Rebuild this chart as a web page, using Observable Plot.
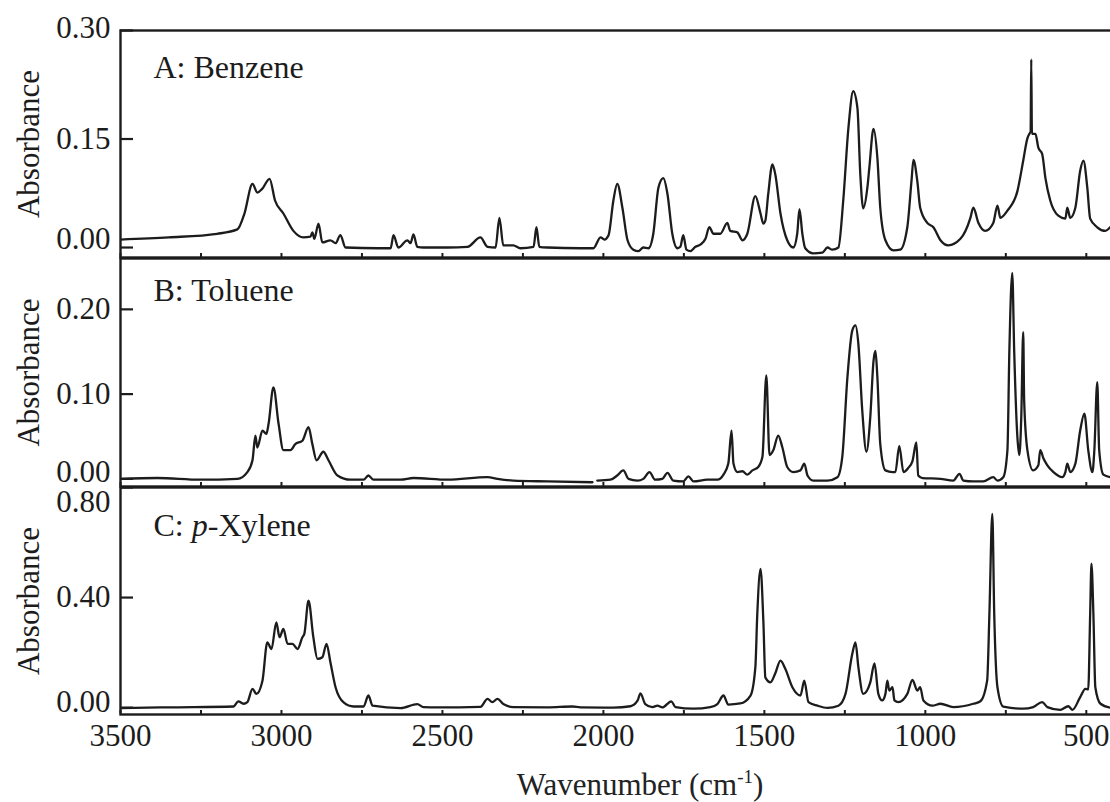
<!DOCTYPE html>
<html>
<head>
<meta charset="utf-8">
<script src="https://cdn.jsdelivr.net/npm/d3@7"></script>
<script src="https://cdn.jsdelivr.net/npm/@observablehq/plot@0.6"></script>
<style>
  body { margin: 0; background: #fff; }
  #chart {
    position: relative; width: 1110px; height: 802px;
    overflow-x: clip; overflow-y: visible;
    font-family: "Liberation Serif", "Times New Roman", serif; color: #222;
  }
  #chart svg { position: absolute; left: 0; overflow: visible; }
  #xlabel {
    position: absolute; left: 390px; width: 500px; top: 770px;
    text-align: center; font-size: 31px; line-height: 30px; white-space: nowrap;
  }
  #xlabel sup { font-size: 19px; line-height: 0; vertical-align: 12px; }
</style>
</head>
<body>
<div id="chart"></div>
<script>
// IR absorbance spectra, [wavenumber (cm-1), absorbance]
const benzene = [
  [3500, 0.011], [3350, 0.014], [3200, 0.019], [3137, 0.025], [3115, 0.047],
  [3090, 0.088], [3075, 0.076], [3060, 0.081], [3037, 0.095], [3020, 0.065],
  [2994, 0.047], [2963, 0.023], [2932, 0.014], [2910, 0.015], [2904, 0.021],
  [2898, 0.012], [2885, 0.033], [2873, 0.007], [2848, 0.010], [2832, 0.006],
  [2817, 0.017], [2801, 0.000], [2700, -0.001], [2661, -0.001], [2652, 0.017],
  [2637, 0.000], [2609, 0.010], [2599, 0.006], [2590, 0.018], [2578, 0.001],
  [2559, 0.000], [2484, 0.000], [2422, 0.001], [2382, 0.014], [2360, 0.001],
  [2335, 0.000], [2323, 0.041], [2311, 0.003], [2280, 0.003], [2258, -0.001],
  [2217, 0.001], [2208, 0.028], [2199, 0.001], [2174, 0.000], [2071, -0.001],
  [2031, -0.001], [2009, 0.014], [1997, 0.011], [1984, 0.017], [1969, 0.065],
  [1957, 0.088], [1941, 0.055], [1925, 0.010], [1907, -0.003], [1891, -0.005],
  [1876, 0.000], [1860, -0.001], [1845, 0.019], [1829, 0.083], [1814, 0.096],
  [1801, 0.074], [1786, 0.019], [1770, -0.001], [1761, 0.001], [1752, 0.017],
  [1742, -0.003], [1730, -0.005], [1714, 0.001], [1699, 0.004], [1683, 0.012],
  [1671, 0.028], [1658, 0.019], [1637, 0.019], [1615, 0.034], [1606, 0.023],
  [1584, 0.021], [1568, 0.010], [1553, 0.019], [1528, 0.071], [1512, 0.047],
  [1503, 0.033], [1497, 0.037], [1488, 0.074], [1475, 0.115], [1466, 0.101],
  [1450, 0.047], [1429, 0.010], [1410, 0.000], [1398, 0.019], [1391, 0.053],
  [1382, 0.019], [1373, -0.001], [1348, -0.008], [1320, -0.007], [1304, 0.000],
  [1289, -0.003], [1270, 0.000], [1255, 0.065], [1239, 0.165], [1224, 0.216],
  [1211, 0.193], [1202, 0.101], [1193, 0.054], [1180, 0.083], [1174, 0.110],
  [1161, 0.164], [1149, 0.124], [1140, 0.055], [1124, 0.010], [1099, -0.004],
  [1078, -0.003], [1056, 0.028], [1043, 0.092], [1037, 0.121], [1025, 0.092],
  [1016, 0.055], [994, 0.034], [975, 0.028], [953, 0.010], [929, 0.003],
  [891, 0.012], [860, 0.041], [851, 0.055], [835, 0.034], [814, 0.023],
  [789, 0.034], [776, 0.058], [767, 0.041], [745, 0.051], [714, 0.078],
  [696, 0.120], [683, 0.151], [677, 0.157], [673, 0.160], [671, 0.260],
  [669, 0.157], [658, 0.157], [649, 0.138], [637, 0.129], [627, 0.096],
  [612, 0.065], [587, 0.044], [565, 0.040], [559, 0.055], [550, 0.041],
  [534, 0.055], [519, 0.106], [509, 0.120], [497, 0.083], [488, 0.040],
  [466, 0.028], [441, 0.023], [426, 0.028]
];

const toluene = [
  [3500, 0.000], [3385, 0.001], [3252, -0.001], [3137, 0.000], [3106, 0.008],
  [3090, 0.022], [3081, 0.051], [3075, 0.037], [3059, 0.057], [3047, 0.053],
  [3040, 0.065], [3025, 0.108], [3009, 0.065], [2994, 0.034], [2972, 0.034],
  [2957, 0.041], [2935, 0.045], [2916, 0.061], [2904, 0.041], [2891, 0.022],
  [2870, 0.032], [2854, 0.022], [2826, 0.004], [2786, -0.001], [2745, -0.001],
  [2730, 0.004], [2714, -0.001], [2630, -0.001], [2590, 0.001], [2484, -0.001],
  [2360, 0.002], [2329, 0.000], [2280, -0.002], [2174, -0.003], [2034, -0.004],
  [2027, NaN], [2019, -0.002], [1978, -0.001], [1957, 0.004], [1938, 0.010],
  [1922, 0.000], [1894, -0.002], [1876, 0.000], [1857, 0.008], [1839, -0.001],
  [1817, 0.000], [1801, 0.007], [1783, -0.002], [1752, -0.003], [1736, 0.003],
  [1720, -0.003], [1677, -0.001], [1646, -0.001], [1627, 0.005], [1612, 0.018],
  [1602, 0.057], [1596, 0.018], [1584, 0.008], [1568, 0.009], [1553, 0.005],
  [1537, 0.010], [1519, 0.014], [1506, 0.026], [1494, 0.122], [1484, 0.028],
  [1472, 0.034], [1457, 0.051], [1444, 0.037], [1429, 0.014], [1410, 0.008],
  [1388, 0.010], [1376, 0.018], [1366, 0.004], [1348, -0.002], [1304, -0.002],
  [1273, 0.002], [1258, 0.026], [1242, 0.120], [1227, 0.175], [1217, 0.181],
  [1208, 0.159], [1196, 0.081], [1183, 0.032], [1171, 0.073], [1161, 0.139],
  [1155, 0.151], [1149, 0.120], [1140, 0.041], [1124, 0.010], [1102, 0.008],
  [1093, 0.008], [1081, 0.039], [1068, 0.008], [1053, 0.013], [1040, 0.021],
  [1028, 0.043], [1022, 0.004], [1009, 0.001], [953, 0.000], [913, -0.002],
  [894, 0.006], [882, -0.002], [851, -0.003], [820, -0.003], [789, 0.002],
  [776, -0.002], [758, 0.002], [745, 0.034], [739, 0.151], [730, 0.243],
  [724, 0.151], [714, 0.049], [708, 0.028], [702, 0.073], [696, 0.173],
  [693, 0.092], [683, 0.034], [665, 0.010], [649, 0.016], [643, 0.034],
  [633, 0.024], [621, 0.016], [602, 0.008], [575, 0.002], [565, 0.008],
  [559, 0.018], [550, 0.008], [534, 0.018], [519, 0.057], [506, 0.077],
  [494, 0.034], [481, 0.008], [475, 0.034], [466, 0.114], [460, 0.034],
  [447, 0.005], [426, 0.002]
];

const pXylene = [
  [3500, -0.002], [3354, 0.001], [3149, 0.004], [3134, 0.023], [3118, 0.014],
  [3106, 0.020], [3090, 0.068], [3078, 0.050], [3059, 0.098], [3044, 0.237],
  [3031, 0.213], [3016, 0.310], [3006, 0.256], [2994, 0.286], [2981, 0.232],
  [2966, 0.232], [2950, 0.213], [2935, 0.256], [2929, 0.268], [2916, 0.389],
  [2901, 0.256], [2888, 0.177], [2873, 0.183], [2860, 0.232], [2848, 0.165],
  [2832, 0.074], [2807, 0.019], [2776, 0.004], [2745, 0.004], [2730, 0.044],
  [2717, 0.007], [2630, -0.002], [2578, 0.013], [2559, 0.002], [2516, 0.001],
  [2382, 0.003], [2360, 0.032], [2345, 0.020], [2329, 0.032], [2311, 0.013],
  [2280, 0.002], [2174, 0.001], [2096, 0.004], [2071, 0.001], [1969, 0.000],
  [1916, 0.005], [1894, 0.025], [1885, 0.052], [1870, 0.013], [1848, 0.002],
  [1832, 0.007], [1817, 0.001], [1789, 0.023], [1776, 0.002], [1720, -0.004],
  [1668, 0.002], [1646, 0.013], [1627, 0.044], [1612, 0.011], [1575, 0.015],
  [1543, 0.044], [1528, 0.147], [1522, 0.340], [1512, 0.504], [1503, 0.310],
  [1497, 0.110], [1481, 0.092], [1466, 0.125], [1450, 0.171], [1435, 0.141],
  [1413, 0.074], [1388, 0.044], [1376, 0.098], [1363, 0.020], [1335, 0.007],
  [1304, -0.001], [1270, 0.007], [1248, 0.050], [1227, 0.195], [1217, 0.237],
  [1208, 0.147], [1193, 0.050], [1171, 0.092], [1158, 0.161], [1146, 0.050],
  [1134, 0.026], [1124, 0.050], [1118, 0.098], [1112, 0.062], [1102, 0.074],
  [1096, 0.026], [1084, 0.020], [1056, 0.050], [1040, 0.101], [1025, 0.062],
  [1016, 0.074], [1006, 0.026], [978, 0.007], [953, 0.014], [913, 0.002],
  [851, 0.014], [829, 0.023], [808, 0.098], [801, 0.341], [792, 0.704],
  [786, 0.341], [776, 0.074], [758, 0.004], [696, -0.004], [665, 0.002],
  [637, 0.020], [621, 0.002], [581, -0.008], [556, 0.005], [543, -0.008],
  [519, 0.038], [503, 0.068], [494, 0.066], [488, 0.341], [484, 0.523],
  [478, 0.341], [472, 0.074], [456, 0.014], [426, 0.000]
];

// axis ticks
const xTickLabels = [3500, 3000, 2500, 2000, 1500, 1000, 500];
const xTicks = [3500, 3250, 3000, 2750, 2500, 2250, 2000, 1750, 1500, 1250, 1000, 750, 500];
const yTicksBenzene = [0.00, 0.15, 0.30];
const yTicksToluene = [0.00, 0.10, 0.20];
const yTicksXylene = [0.00, 0.40, 0.80];

const panelNames = ["A: Benzene", "B: Toluene", "C: p-Xylene"];
const yTitle = "Absorbance";

const ink = "#1c1c1c";
const font = `"Liberation Serif", "Times New Roman", serif`;
const chart = document.getElementById("chart");

function panel({data, yDomain, yTicks, yLabelShift, name, nameDy, top, marginTop, marginBottom, plotHeight, showX}) {
  const height = marginTop + plotHeight + marginBottom;
  const marks = [
    Plot.line(data, {x: d => d[0], y: d => d[1], curve: "monotone-x", stroke: ink, strokeWidth: 2.3, clip: true}),
    Plot.frame({stroke: ink, strokeWidth: 2.4}),
    Plot.axisX(xTicks, {anchor: "bottom", tickSize: -4, text: null, stroke: ink, strokeWidth: 2, label: null}),
    Plot.axisY(yTicks, {anchor: "left", tickSize: -13, text: null, stroke: ink, strokeWidth: 2.2, label: null}),
    ...yTicks.map((t, i) => Plot.axisY([t], {
      anchor: "left", tickSize: 0, tickPadding: 10, tickFormat: d3.format(".2f"),
      fontSize: 31, fill: ink, dy: yLabelShift[i], label: null
    })),
    Plot.text([name], {frameAnchor: "top-left", text: d => d, dx: 33, dy: nameDy,
      textAnchor: "start", lineAnchor: "bottom", fontSize: 32, fill: ink}),
    Plot.text([yTitle], {frameAnchor: "left", text: d => d, rotate: -90, dx: -91,
      textAnchor: "middle", lineAnchor: "middle", fontSize: 31, fill: ink})
  ];
  if (showX) {
    marks.push(Plot.axisX(xTickLabels, {anchor: "bottom", tickSize: 0, tickPadding: 9,
      tickFormat: d => String(d), fontSize: 31, fill: ink, label: null}));
  }
  const svg = Plot.plot({
    width: 1118, height,
    marginLeft: 120, marginRight: 0, marginTop, marginBottom,
    x: {domain: [3500, 400], axis: null},
    y: {domain: yDomain, axis: null},
    style: {fontFamily: font, background: "transparent", maxWidth: "none", color: ink, overflow: "visible"},
    marks
  });
  svg.style.top = top + "px";
  chart.appendChild(svg);
  return svg;
}

panel({data: benzene, yDomain: [-0.0138, 0.30], yTicks: yTicksBenzene, yLabelShift: [-8, 0, -2],
  name: panelNames[0], nameDy: 47, top: 0, marginTop: 30, marginBottom: 1, plotHeight: 227});
panel({data: toluene, yDomain: [-0.009, 0.26], yTicks: yTicksToluene, yLabelShift: [-7, 0, 0],
  name: panelNames[1], nameDy: 42, top: 257, marginTop: 1, marginBottom: 1, plotHeight: 228});
const c = panel({data: pXylene, yDomain: [-0.025, 0.80], yTicks: yTicksXylene, yLabelShift: [-6, 0, 15],
  name: panelNames[2], nameDy: 48, top: 486, marginTop: 1, marginBottom: 60, plotHeight: 227, showX: true});

// italic "p" in the p-xylene panel name
d3.select(c).selectAll("text")
  .filter(function() { return this.textContent === panelNames[2]; })
  .each(function() {
    const t = d3.select(this).text(null);
    t.append("tspan").text("C: ");
    t.append("tspan").attr("font-style", "italic").text("p");
    t.append("tspan").text("-Xylene");
  });

const xl = document.createElement("div");
xl.id = "xlabel";
xl.innerHTML = "Wavenumber (cm<sup>-1</sup>)";
chart.appendChild(xl);
</script>
</body>
</html>
